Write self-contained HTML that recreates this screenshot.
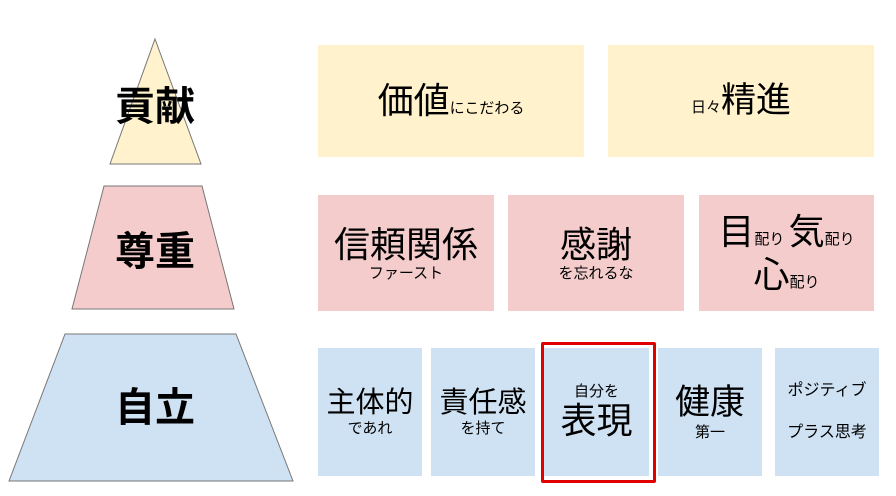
<!DOCTYPE html>
<html><head><meta charset="utf-8"><style>
body{margin:0;width:896px;height:496px;background:#fff;position:relative;overflow:hidden;font-family:"Liberation Sans","Noto Sans CJK JP",sans-serif;color:#000}
.b{position:absolute;display:flex;flex-direction:column;align-items:center;justify-content:center;text-align:center;line-height:1.15}
.y{background:#fff2cc}.p{background:#f4cccc}.u{background:#cfe2f3}
.L{position:absolute;font-weight:bold;font-size:40px;text-align:center;width:200px}
.s{font-size:15px}
</style></head><body>
<svg width="896" height="496" style="position:absolute;left:0;top:0">
<polygon points="155,39 201,164 110,164" fill="#fff2cc" stroke="#777" stroke-width="1"/>
<polygon points="104,186 202,186 234,309 72,309" fill="#f4cccc" stroke="#777" stroke-width="1"/>
<polygon points="65,334 236,334 293,481 9,481" fill="#cfe2f3" stroke="#777" stroke-width="1"/>
</svg>
<div class="L" style="left:55px;top:74px">貢献</div>
<div class="L" style="left:55px;top:219px">尊重</div>
<div class="L" style="left:55px;top:375px">自立</div>

<div class="b y" style="left:318px;top:45px;width:266px;height:112px"><div><span style="font-size:36px">価値</span><span class="s">にこだわる</span></div></div>
<div class="b y" style="left:608px;top:45px;width:266px;height:112px"><div><span class="s">日々</span><span style="font-size:35px">精進</span></div></div>

<div class="b p" style="left:318px;top:195px;width:176px;height:116px"><div style="font-size:36px">信頼関係</div><div class="s">ファースト</div></div>
<div class="b p" style="left:508px;top:195px;width:176px;height:116px"><div style="font-size:36px">感謝</div><div class="s">を忘れるな</div></div>
<div class="b p" style="left:699px;top:195px;width:175px;height:116px;line-height:1.2"><div><span style="font-size:36px">目</span><span class="s">配り </span><span style="font-size:36px">気</span><span class="s">配り</span></div><div><span style="font-size:36px">心</span><span class="s">配り</span></div></div>

<div class="b u" style="left:318px;top:348px;width:104px;height:128px"><div style="font-size:29px">主体的</div><div class="s">であれ</div></div>
<div class="b u" style="left:431px;top:348px;width:104px;height:128px"><div style="font-size:29px">責任感</div><div class="s">を持て</div></div>
<div class="b u" style="left:544px;top:348px;width:105px;height:128px"><div class="s">自分を</div><div style="font-size:36px">表現</div></div>
<div style="position:absolute;left:541px;top:342px;width:109px;height:135px;border:3px solid #e00000;border-radius:2px"></div>
<div class="b u" style="left:658px;top:348px;width:104px;height:128px"><div style="font-size:35px">健康</div><div class="s">第一</div></div>
<div class="b u" style="left:775px;top:348px;width:104px;height:128px;font-size:16px;line-height:2.6"><div>ポジティブ</div><div>プラス思考</div></div>
</body></html>
